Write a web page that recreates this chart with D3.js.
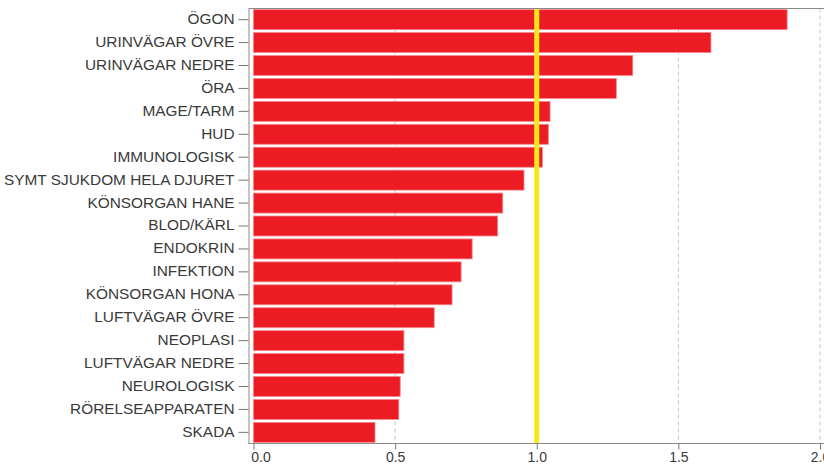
<!DOCTYPE html>
<html>
<head>
<meta charset="utf-8">
<script src="https://cdn.jsdelivr.net/npm/d3@7"></script>
<style>
  html, body { margin: 0; padding: 0; background: #fff; }
  svg { display: block; }
  text { font-family: "Liberation Sans", Arial, sans-serif; fill: #3a3a3a; }
</style>
</head>
<body>
<svg id="chart" width="824" height="465"></svg>
<script>
const categories = ["ÖGON","URINVÄGAR ÖVRE","URINVÄGAR NEDRE","ÖRA","MAGE/TARM","HUD","IMMUNOLOGISK","SYMT SJUKDOM HELA DJURET","KÖNSORGAN HANE","BLOD/KÄRL","ENDOKRIN","INFEKTION","KÖNSORGAN HONA","LUFTVÄGAR ÖVRE","NEOPLASI","LUFTVÄGAR NEDRE","NEUROLOGISK","RÖRELSEAPPARATEN","SKADA"];
const values = [1.884,1.615,1.339,1.281,1.047,1.041,1.020,0.955,0.880,0.862,0.772,0.733,0.701,0.638,0.531,0.531,0.518,0.513,0.429];
const xTicks = [0, 0.5, 1.0, 1.5, 2.0];
const referenceValue = 1.0;

const svg = d3.select("#chart");
const W = 824;
const plotTop = 8.5, plotBottom = 443.5, axisX = 248.5;

const x = d3.scaleLinear().domain([0, 2]).range([253.5, 820]);
const y = d3.scaleBand().domain(categories).range([plotTop, plotBottom]).paddingInner(0.128).paddingOuter(0.05);

// gridlines
svg.append("g").selectAll("line").data(xTicks.slice(1)).join("line")
  .attr("x1", d => x(d)).attr("x2", d => x(d))
  .attr("y1", plotTop).attr("y2", plotBottom)
  .attr("stroke", "#c4c4c4").attr("stroke-width", 1)
  .attr("stroke-dasharray", "4,3");

// bars
svg.append("g").selectAll("rect").data(categories).join("rect")
  .attr("x", x(0))
  .attr("y", d => y(d))
  .attr("width", (d, i) => x(values[i]) - x(0))
  .attr("height", y.bandwidth())
  .attr("fill", "#ed1c24")
  .attr("stroke", "#f48a8e").attr("stroke-width", 0.8);

// reference line
svg.append("line")
  .attr("x1", x(referenceValue)).attr("x2", x(referenceValue))
  .attr("y1", plotTop).attr("y2", plotBottom)
  .attr("stroke", "#f8e71c").attr("stroke-width", 5);

// frame line on top
svg.append("line").attr("x1", axisX).attr("x2", W).attr("y1", plotTop).attr("y2", plotTop)
  .attr("stroke", "#8a8a8a").attr("stroke-width", 1);

// y axis
const yAxis = svg.append("g").attr("transform", `translate(${axisX},0)`)
  .call(d3.axisLeft(y).tickSize(10).tickPadding(4).tickSizeOuter(0));
yAxis.select(".domain").attr("stroke", "#8a8a8a");
yAxis.selectAll(".tick line").attr("stroke", "#777");
yAxis.selectAll(".tick text")
  .attr("font-size", 14).attr("fill", "#3a3a3a")
  .attr("transform", "translate(-14,0) scale(1.1,1) translate(14,0)");

// x axis
const xAxis = svg.append("g").attr("transform", `translate(0,${plotBottom})`)
  .call(d3.axisBottom(x).tickValues(xTicks).tickFormat(d3.format(".1f")).tickSize(6).tickPadding(3).tickSizeOuter(0));
xAxis.select(".domain").attr("d", `M${axisX},0H${W}`).attr("stroke", "#8a8a8a");
xAxis.selectAll(".tick line").attr("stroke", "#777");
xAxis.selectAll(".tick text").attr("font-size", 14).attr("fill", "#3a3a3a");
xAxis.selectAll(".tick text").filter(d => d === 0).attr("dx", 7);
</script>
</body>
</html>
